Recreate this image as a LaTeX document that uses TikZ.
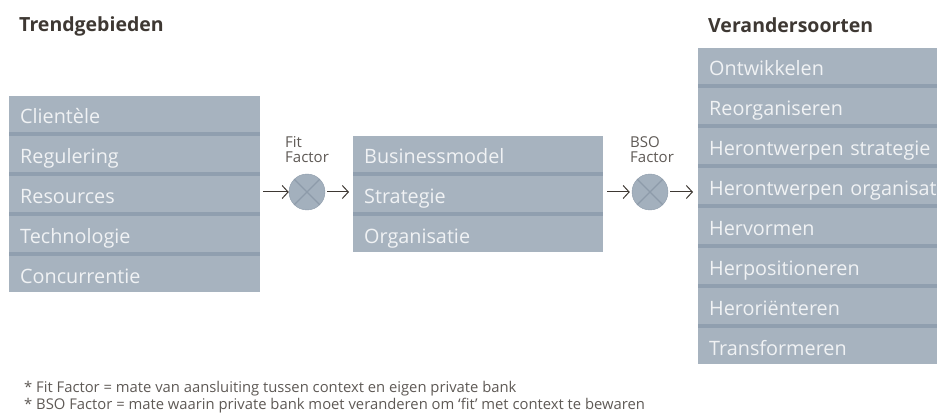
\documentclass[tikz,border=0pt]{standalone}
\usepackage{fontspec}
\setmainfont{Open Sans}
\usetikzlibrary{arrows.meta}
\definecolor{rowfill}{HTML}{A7B3BF}
\definecolor{sepcol}{HTML}{909FAF}
\definecolor{rowtext}{HTML}{F0F2F4}
\definecolor{titlecol}{HTML}{3E3833}
\definecolor{notecol}{HTML}{5E5955}
\definecolor{circfill}{HTML}{A3B0BD}
\definecolor{xcol}{HTML}{8D9BAA}
\tikzset{
  rowbox/.style={fill=rowfill, text=rowtext, anchor=north west, inner xsep=11pt, inner ysep=0pt,
    text height=27pt, text depth=9pt, align=left, font=\fontsize{19.8}{21}\selectfont},
  groupbg/.style={fill=sepcol, anchor=north west, inner sep=0pt},
  title/.style={anchor=base west, inner sep=0pt, text=titlecol, font=\fontsize{19.5}{21}\selectfont\bfseries},
  flabel/.style={anchor=north west, inner sep=0pt, text=notecol, align=left, font=\fontsize{15}{15}\selectfont},
  factor/.style={circle, fill=circfill, draw=xcol, line width=0.4pt, minimum size=36pt, inner sep=0pt,
    path picture={\draw[xcol, line width=1.3pt] (path picture bounding box.north west) -- (path picture bounding box.south east)
      (path picture bounding box.north east) -- (path picture bounding box.south west);}},
  arr/.style={draw=titlecol, line width=1pt, -{Straight Barb[length=6pt,width=13pt]}},
  note/.style={anchor=base west, inner sep=0pt, text=notecol, font=\fontsize{14.8}{16}\selectfont}
}
\begin{document}
\begin{tikzpicture}[x=1pt,y=-1pt]
\useasboundingbox (0,0) rectangle (937,414);
% titles
\node[title] (t1) at (19,32) {Trendgebieden};
\node[title] (t2) at (708,33) {Verandersoorten};
% left group
\node[groupbg, minimum width=251pt, minimum height=196pt] (left) at (9,96) {};
\node[rowbox, text width=229pt] (l1) at (9,96) {Clientèle};
\node[rowbox, text width=229pt] (l2) at (9,136) {Regulering};
\node[rowbox, text width=229pt] (l3) at (9,176) {Resources};
\node[rowbox, text width=229pt] (l4) at (9,216) {Technologie};
\node[rowbox, text width=229pt] (l5) at (9,256) {Concurrentie};
% middle group
\node[groupbg, minimum width=250pt, minimum height=116pt] (mid) at (353,136) {};
\node[rowbox, text width=228pt] (m1) at (353,136) {Businessmodel};
\node[rowbox, text width=228pt] (m2) at (353,176) {Strategie};
\node[rowbox, text width=228pt] (m3) at (353,216) {Organisatie};
% right group
\node[groupbg, minimum width=250pt, minimum height=316pt] (right) at (698,48) {};
\node[rowbox, text width=228pt] (r1) at (698,48) {Ontwikkelen};
\node[rowbox, text width=228pt] (r2) at (698,88) {Reorganiseren};
\node[rowbox, text width=228pt] (r3) at (698,128) {\mbox{Herontwerpen strategie}};
\node[rowbox, text width=228pt] (r4) at (698,168) {\mbox{Herontwerpen organisatie}};
\node[rowbox, text width=228pt] (r5) at (698,208) {Hervormen};
\node[rowbox, text width=228pt] (r6) at (698,248) {Herpositioneren};
\node[rowbox, text width=228pt] (r7) at (698,288) {Heroriënteren};
\node[rowbox, text width=228pt] (r8) at (698,328) {Transformeren};
% factors
\node[factor] (fit) at (307,192) {};
\node[factor] (bso) at (650,192) {};
\node[flabel] (fitl) at (285,136) {Fit\\Factor};
\node[flabel] (bsol) at (630,136) {BSO\\Factor};
% connectors
\coordinate (a1) at ([xshift=3pt]left.east |- fit.west);
\coordinate (a2) at ([xshift=-4pt]mid.west |- fit.east);
\coordinate (a3) at ([xshift=4pt]mid.east |- bso.west);
\coordinate (a4) at ([xshift=-5pt]right.west |- bso.east);
\draw[arr] (a1) -- (fit.west);
\draw[arr] ([xshift=2pt]fit.east) -- (a2);
\draw[arr] (a3) -- ([xshift=-2pt]bso.west);
\draw[arr] ([xshift=2pt]bso.east) -- (a4);
% notes
\node[note] (n1) at (24,392) {* Fit Factor = mate van aansluiting tussen context en eigen private bank};
\node[note] (n2) at (24,409) {* BSO Factor = mate waarin private bank moet veranderen om ‘fit’ met context te bewaren};
\end{tikzpicture}
\end{document}
